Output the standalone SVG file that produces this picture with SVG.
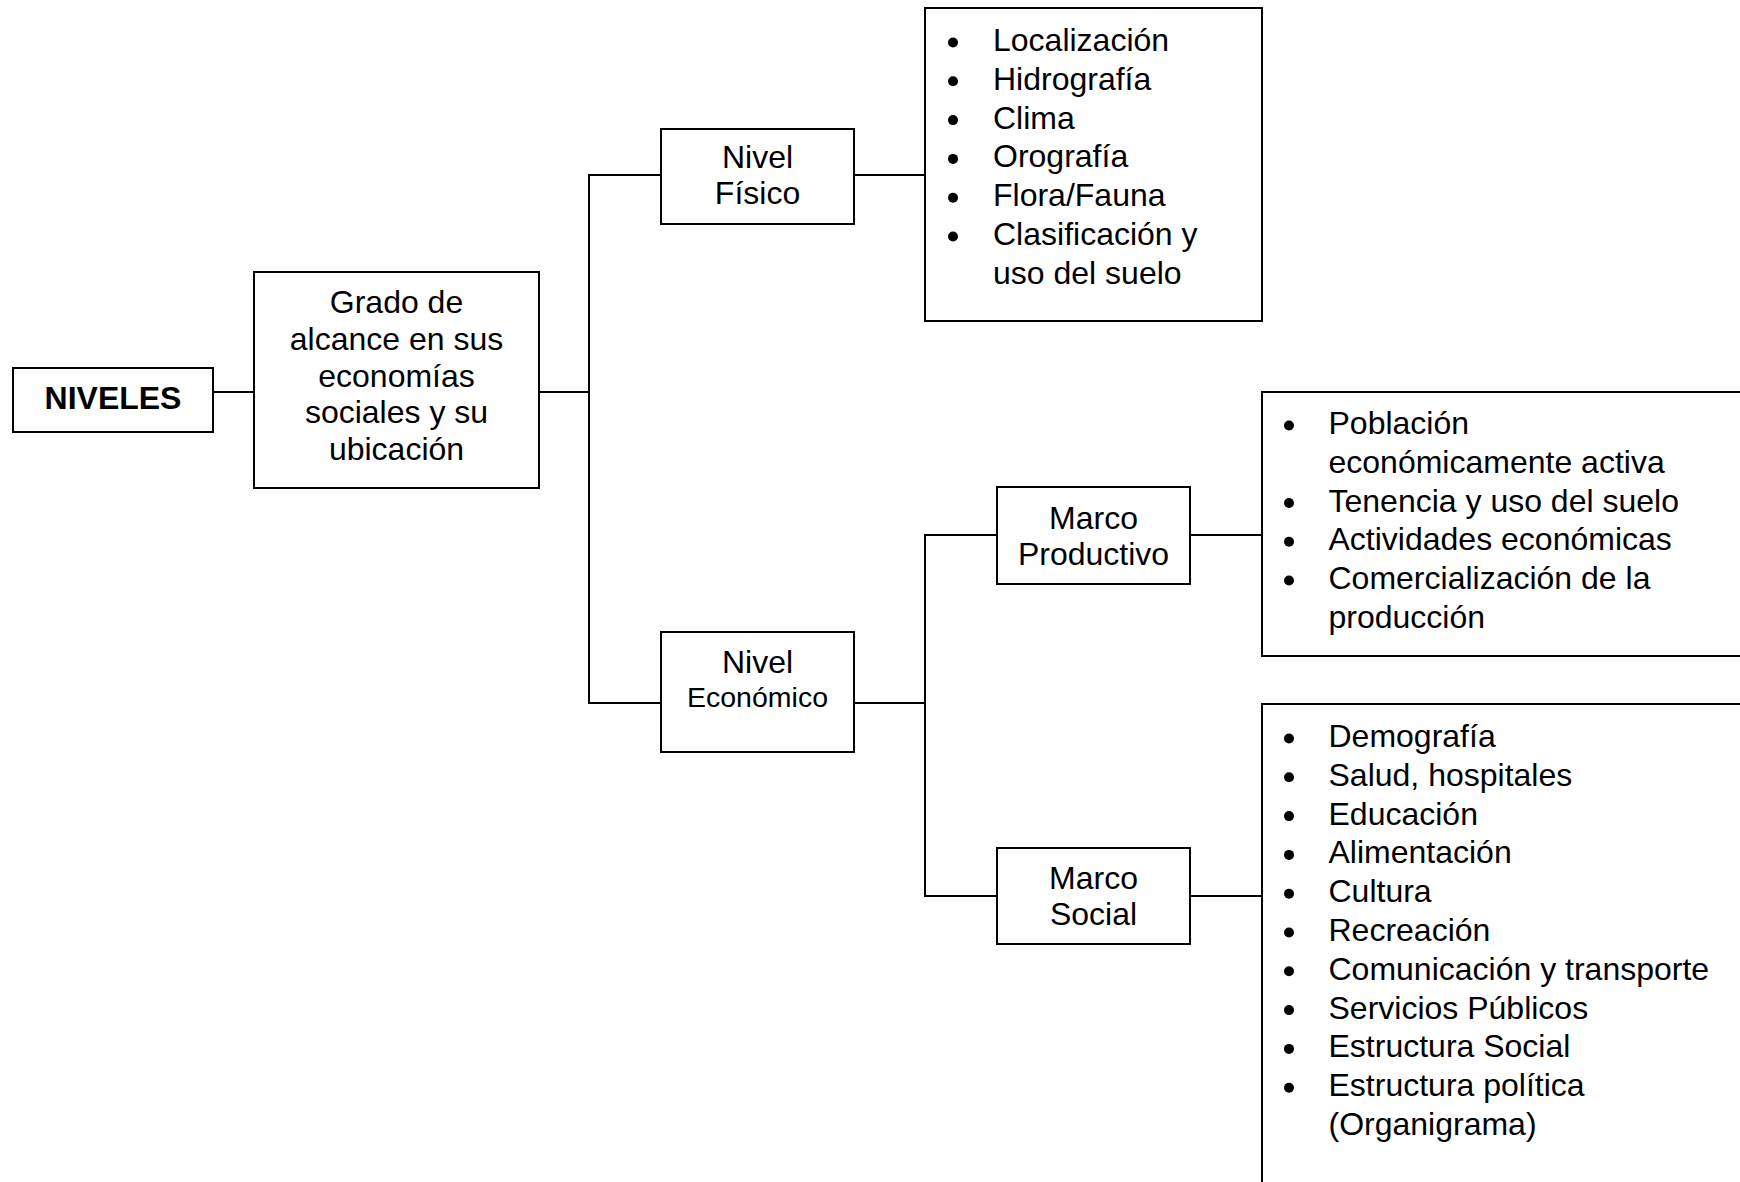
<svg xmlns="http://www.w3.org/2000/svg" width="1740" height="1182" viewBox="0 0 1740 1182">
<style>
.box{fill:#fff;stroke:#000;stroke-width:2}
.t{font-family:"Liberation Sans",Arial,sans-serif;font-size:32px;fill:#000}
.c{text-anchor:middle}
.bold{font-weight:bold}
.conn{stroke:#000;stroke-width:2;fill:none;stroke-linecap:square}
.b{fill:#000}
</style>
<rect x="0" y="0" width="1740" height="1182" fill="#fff"/>
<g id="connectors">
<path class="conn" d="M213 392 H254 M539 392 H589 M589 175 V703 M589 175 H661 M589 703 H661 M854 175 H925 M854 703 H925 M925 535 V896 M925 535 H997 M925 896 H997 M1190 535 H1262 M1190 896 H1262"/>
</g>
<g id="niveles">
<rect class="box" x="13" y="368" width="200" height="64"/>
<text class="t c bold" x="113" y="408.5">NIVELES</text>
</g>
<g id="grado">
<rect class="box" x="254" y="272" width="285" height="216"/>
<text class="t c" x="396.5" y="313">Grado de</text>
<text class="t c" x="396.5" y="350">alcance en sus</text>
<text class="t c" x="396.5" y="386.5">economías</text>
<text class="t c" x="396.5" y="423">sociales y su</text>
<text class="t c" x="396.5" y="460">ubicación</text>
</g>
<g id="nivel-fisico">
<rect class="box" x="661" y="129" width="193" height="95"/>
<text class="t c" x="757.5" y="168">Nivel</text>
<text class="t c" x="757.5" y="204">Físico</text>
</g>
<g id="lista-fisico">
<rect class="box" x="925" y="8" width="337" height="313"/>
<circle class="b" cx="953" cy="42.5" r="5"/>
<circle class="b" cx="953" cy="81.3" r="5"/>
<circle class="b" cx="953" cy="120.1" r="5"/>
<circle class="b" cx="953" cy="158.9" r="5"/>
<circle class="b" cx="953" cy="197.7" r="5"/>
<circle class="b" cx="953" cy="236.5" r="5"/>
<text class="t" x="993" y="51">Localización</text>
<text class="t" x="993" y="89.8">Hidrografía</text>
<text class="t" x="993" y="128.6">Clima</text>
<text class="t" x="993" y="167.4">Orografía</text>
<text class="t" x="993" y="206.2">Flora/Fauna</text>
<text class="t" x="993" y="245">Clasificación y</text>
<text class="t" x="993" y="283.8">uso del suelo</text>
</g>
<g id="nivel-economico">
<rect class="box" x="661" y="632" width="193" height="120"/>
<text class="t c" x="757.5" y="673">Nivel</text>
<text class="t c" x="757.5" y="707" style="font-size:28.5px">Económico</text>
</g>
<g id="marco-productivo">
<rect class="box" x="997" y="487" width="193" height="97"/>
<text class="t c" x="1093.5" y="529">Marco</text>
<text class="t c" x="1093.5" y="565">Productivo</text>
</g>
<g id="lista-productivo">
<rect class="box" x="1262" y="392" width="500" height="264"/>
<circle class="b" cx="1289" cy="425.5" r="5"/>
<circle class="b" cx="1289" cy="503" r="5"/>
<circle class="b" cx="1289" cy="541.8" r="5"/>
<circle class="b" cx="1289" cy="580.5" r="5"/>
<text class="t" x="1328.5" y="434">Población</text>
<text class="t" x="1328.5" y="472.8">económicamente activa</text>
<text class="t" x="1328.5" y="511.5">Tenencia y uso del suelo</text>
<text class="t" x="1328.5" y="550.3">Actividades económicas</text>
<text class="t" x="1328.5" y="589">Comercialización de la</text>
<text class="t" x="1328.5" y="627.8">producción</text>
</g>
<g id="marco-social">
<rect class="box" x="997" y="848" width="193" height="96"/>
<text class="t c" x="1093.5" y="888.5">Marco</text>
<text class="t c" x="1093.5" y="925">Social</text>
</g>
<g id="lista-social">
<rect class="box" x="1262" y="704" width="500" height="520"/>
<circle class="b" cx="1289" cy="738.5" r="5"/>
<circle class="b" cx="1289" cy="777.3" r="5"/>
<circle class="b" cx="1289" cy="816.1" r="5"/>
<circle class="b" cx="1289" cy="854.9" r="5"/>
<circle class="b" cx="1289" cy="893.7" r="5"/>
<circle class="b" cx="1289" cy="932.5" r="5"/>
<circle class="b" cx="1289" cy="971.3" r="5"/>
<circle class="b" cx="1289" cy="1010.1" r="5"/>
<circle class="b" cx="1289" cy="1048.9" r="5"/>
<circle class="b" cx="1289" cy="1087.7" r="5"/>
<text class="t" x="1328.5" y="747">Demografía</text>
<text class="t" x="1328.5" y="785.8">Salud, hospitales</text>
<text class="t" x="1328.5" y="824.6">Educación</text>
<text class="t" x="1328.5" y="863.4">Alimentación</text>
<text class="t" x="1328.5" y="902.2">Cultura</text>
<text class="t" x="1328.5" y="941">Recreación</text>
<text class="t" x="1328.5" y="979.8">Comunicación y transporte</text>
<text class="t" x="1328.5" y="1018.6">Servicios Públicos</text>
<text class="t" x="1328.5" y="1057.4">Estructura Social</text>
<text class="t" x="1328.5" y="1096.2">Estructura política</text>
<text class="t" x="1328.5" y="1135">(Organigrama)</text>
</g>
</svg>
